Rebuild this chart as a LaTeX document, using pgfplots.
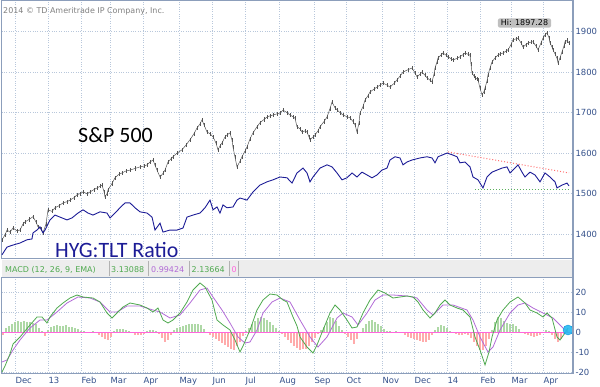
\documentclass[border=0pt]{standalone}
\usepackage{fontspec}
\setmainfont{DejaVu Sans}
\newfontfamily\carlito{Carlito}
\usepackage{pgfplots}
\usepackage{pgfplotstable}
\pgfplotsset{compat=1.18}
\definecolor{axisc}{HTML}{8C9EBB}
\definecolor{tickc}{HTML}{34508A}
\definecolor{gridc}{HTML}{B8C7DB}
\definecolor{spc}{HTML}{555555}
\definecolor{hygc}{HTML}{1C1C96}
\definecolor{macdg}{HTML}{4FA94F}
\definecolor{macdp}{HTML}{B26BD6}
\definecolor{histg}{HTML}{AED8A6}
\definecolor{histr}{HTML}{FFABAB}
\definecolor{zeroc}{HTML}{FF66DD}
\definecolor{bandc}{HTML}{EDEDED}
\definecolor{trendg}{HTML}{5CB05C}
\definecolor{trendr}{HTML}{FF7070}

\pgfplotstableread{
x h
3 -1.5
6 2
9 3
12 4
15 5
18 5.5
21 5
24 5.5
27 5
30 5
33 4.5
36 4
39 2
42 0.5
45 -2
48 1
51 2.5
54 3
57 3.3
60 3
63 3
66 3.3
69 2.5
72 2.5
75 2
78 1.5
81 0.5
84 0.3
87 -0.5
90 -0.3
93 0.3
96 -0.5
99 -1.5
102 -2.5
105 -3.5
108 -4
111 -2.5
114 0.5
117 1.5
120 1.7
123 1.5
126 1
129 0.3
132 -0.5
135 -1.5
138 -1.7
141 -1.5
144 -0.8
147 0.5
150 1.2
153 1
156 0.3
159 -1
162 -3
165 -5
168 -4
171 -1.5
174 1
177 2
180 2.5
183 3
186 3.5
189 4
192 4
195 4
198 3.8
201 3.5
204 1.5
207 -0.5
210 -1.5
213 -2.5
216 -3.5
219 -4.5
222 -5.5
225 -6.5
228 -7.5
231 -8.5
234 -9
237 -7
240 -5
243 -2
246 0.5
249 2
252 4
255 5.5
258 7
261 7.5
264 7
267 6
270 5
273 3.5
276 2
279 0.5
282 -1
285 -2.5
288 -4
291 -5.5
294 -7
297 -8
300 -9
303 -8.5
306 -8.3
309 -7
312 -5
315 -3
318 -1
321 1
324 2.5
327 5
330 7.5
333 7
336 5.5
339 3
342 1
345 -1
348 -2.5
351 -4
354 -6
357 -3.5
360 -0.5
363 2
366 4
369 5.5
372 6
375 5
378 4
381 3
384 1.5
387 0.3
390 0.5
393 -0.3
396 0.4
399 -0.3
402 -0.5
405 -1.5
408 -2.5
411 -3
414 -3.5
417 -4
420 -4.5
423 -5
426 -5
429 -4
432 -1.5
435 1
438 2.5
441 3.3
444 3
447 2
450 0.5
453 -0.5
456 -1
459 -1.5
462 -1.5
465 -1
468 -1.5
471 -3
474 -5
477 -7
480 -9
483 -9
486 -7
489 -3.5
492 1
495 5
498 7.5
501 7
504 5.5
507 4.5
510 4
513 4
516 3
519 1.5
522 0.2
525 -1
528 -1.5
531 -2
534 -2.5
537 -2
540 -1.5
543 -0.5
546 0.8
549 0.5
552 -1.5
555 -3.5
558 -5
561 -3.5
564 -1
567 1.5
}\histtable

\begin{document}
\begin{tikzpicture}[x=1bp,y=1bp]
\path[use as bounding box] (0bp,0bp) rectangle (600bp,-387bp);

% ---------- top panel ----------
\begin{axis}[
  at={(1.5bp,0bp)}, anchor=north west,
  scale only axis, width=571.5bp, height=258bp,
  xmin=1.5, xmax=573, ymin=1341, ymax=1978,
  xtick={15,48,81,110,143,179,212,245,279,314,346,382,414,447,480,511,543},
  xticklabels={},
  ytick={1400,1500,1600,1700,1800,1900},
  yticklabel pos=right,
  major tick length=0pt,
  grid=major,
  major grid style={dotted, gridc, line width=0.7bp},
  axis line style={axisc, line width=0.6bp},
  tick label style={font=\fontsize{8.5}{10}\selectfont, text=tickc},
  yticklabel style={anchor=west, xshift=-1bp},
  /pgf/number format/assume math mode=true,
  /pgf/number format/set thousands separator={},
]
\addplot[color=spc, line width=0.5bp,
  error bars/.cd, y dir=both, y fixed=5,
  error bar style={color=spc, line width=0.45bp}, error mark=none] coordinates {
(2,1386)(5,1398)(7,1410)(10,1405)(13,1415)(17,1408)(20,1410)(23,1425)(25,1430)(29,1436)(33,1443)(36,1430)(38,1418)(41,1412)(43,1403)(46,1425)(48,1460)(52,1456)(55,1465)(59,1470)(63,1477)(67,1480)(70,1484)(74,1490)(77,1497)(80,1500)(83,1504)(87,1500)(90,1504)(94,1510)(97,1514)(100,1518)(102,1521)(104,1505)(105,1492)(107,1500)(108,1509)(112,1525)(115,1539)(119,1548)(122,1551)(126,1556)(130,1558)(135,1562)(140,1566)(144,1568)(147,1571)(150,1578)(153,1583)(155,1570)(157,1558)(160,1541)(163,1550)(165,1558)(168,1578)(171,1586)(173,1591)(177,1600)(182,1608)(186,1620)(190,1633)(194,1648)(197,1662)(200,1672)(202,1682)(204,1670)(207,1652)(210,1648)(213,1640)(216,1625)(218,1608)(220,1618)(222,1625)(225,1640)(227,1645)(230,1650)(232,1632)(233,1615)(235,1590)(237,1566)(240,1580)(242,1591)(245,1605)(247,1615)(250,1635)(253,1650)(257,1665)(260,1675)(264,1683)(267,1689)(270,1692)(273,1694)(277,1697)(280,1699)(283,1706)(287,1700)(290,1694)(293,1690)(295,1686)(297,1665)(300,1660)(302,1652)(305,1655)(307,1652)(309,1640)(310,1633)(313,1640)(315,1645)(318,1655)(320,1665)(324,1678)(327,1689)(330,1710)(332,1726)(335,1712)(337,1707)(340,1700)(343,1694)(347,1690)(350,1687)(353,1678)(355,1670)(357,1652)(359,1675)(360,1699)(363,1715)(365,1731)(368,1742)(370,1751)(374,1758)(377,1763)(380,1768)(383,1773)(387,1768)(390,1763)(394,1772)(397,1781)(400,1790)(403,1800)(408,1806)(412,1810)(415,1798)(417,1788)(420,1795)(422,1800)(425,1792)(427,1786)(430,1780)(432,1776)(434,1795)(435,1810)(437,1825)(438,1835)(441,1842)(443,1847)(446,1842)(448,1838)(451,1833)(453,1830)(457,1834)(460,1838)(463,1843)(465,1847)(468,1844)(470,1842)(471,1820)(472,1798)(474,1790)(475,1786)(477,1783)(478,1781)(480,1760)(482,1744)(484,1752)(485,1761)(487,1778)(488,1793)(490,1810)(492,1825)(495,1835)(498,1842)(500,1845)(503,1847)(506,1852)(508,1855)(511,1868)(513,1880)(516,1882)(518,1884)(521,1872)(523,1862)(526,1868)(528,1872)(531,1874)(533,1875)(536,1864)(538,1855)(541,1872)(543,1884)(545,1892)(547,1897)(549,1885)(550,1872)(552,1862)(553,1855)(555,1845)(557,1834)(558,1823)(560,1835)(562,1850)(564,1865)(565,1875)(567,1878)(569,1872)
};
\addplot[color=hygc, line width=0.9bp] coordinates {
(2,1349)(7,1368)(13,1373)(20,1378)(27,1386)(32,1388)(33,1403)(37,1410)(40,1418)(43,1403)(45,1410)(50,1435)(55,1447)(60,1442)(67,1435)(72,1440)(78,1452)(83,1460)(88,1452)(93,1447)(100,1455)(107,1452)(110,1440)(115,1452)(120,1465)(125,1477)(130,1477)(135,1465)(140,1455)(147,1452)(152,1442)(155,1410)(160,1427)(163,1405)(170,1410)(177,1410)(183,1415)(187,1442)(193,1447)(200,1452)(205,1465)(210,1484)(213,1460)(217,1467)(220,1452)(223,1472)(227,1465)(233,1467)(237,1484)(240,1489)(247,1484)(253,1504)(260,1521)(267,1529)(273,1534)(280,1541)(287,1539)(292,1526)(297,1551)(303,1563)(307,1551)(310,1529)(313,1541)(320,1563)(327,1571)(332,1566)(337,1551)(342,1534)(347,1539)(352,1551)(357,1541)(362,1553)(367,1546)(372,1539)(377,1546)(382,1558)(387,1563)(390,1583)(395,1591)(400,1588)(403,1571)(407,1578)(412,1583)(420,1588)(427,1591)(432,1588)(435,1576)(438,1591)(443,1596)(447,1600)(452,1596)(457,1591)(460,1576)(465,1578)(470,1566)(473,1541)(478,1534)(483,1514)(487,1541)(492,1553)(497,1558)(502,1563)(507,1566)(510,1551)(515,1563)(518,1571)(522,1553)(525,1541)(530,1553)(535,1546)(540,1529)(545,1551)(550,1541)(555,1529)(557,1514)(562,1521)(567,1526)(569,1519)
};
\addplot[dotted, color=trendr, line width=1bp] coordinates {(448,1603)(569,1551)};
\addplot[dotted, color=trendg, line width=1bp] coordinates {(475,1511)(569,1511)};
\end{axis}

% ---------- MACD header band ----------
\fill[bandc] (1.5bp,-260bp) rectangle (573bp,-277bp);
\draw[axisc, line width=0.6bp] (1.5bp,-258bp) -- (573bp,-258bp);
\draw[gray!60, line width=0.5bp] (109bp,-261bp) -- (109bp,-276bp) (148.5bp,-261bp) -- (148.5bp,-276bp)
  (189.5bp,-261bp) -- (189.5bp,-276bp) (229.5bp,-261bp) -- (229.5bp,-276bp) (238bp,-261bp) -- (238bp,-276bp);
\node[anchor=base west, inner sep=0, font=\fontsize{8}{9}\selectfont, text=macdg] at (5bp,-272.5bp) {MACD (12, 26, 9, EMA)};
\node[anchor=base west, inner sep=0, font=\fontsize{8}{9}\selectfont, text=macdg] at (111bp,-272.5bp) {3.13088};
\node[anchor=base west, inner sep=0, font=\fontsize{8}{9}\selectfont, text=macdp] at (151bp,-272.5bp) {0.99424};
\node[anchor=base west, inner sep=0, font=\fontsize{8}{9}\selectfont, text=macdg] at (191.5bp,-272.5bp) {2.13664};
\node[anchor=base west, inner sep=0, font=\fontsize{8}{9}\selectfont, text=zeroc] at (231.5bp,-272.5bp) {0};

% ---------- MACD panel ----------
\begin{axis}[
  at={(1.5bp,-277bp)}, anchor=north west,
  scale only axis, width=571.5bp, height=96bp,
  xmin=1.5, xmax=573, ymin=-20.5, ymax=27.5,
  xtick={15,48,81,110,143,179,212,245,279,314,346,382,414,447,480,511,543},
  xticklabels={Dec,13,Feb,Mar,Apr,May,Jun,Jul,Aug,Sep,Oct,Nov,Dec,14,Feb,Mar,Apr},
  ytick={-20,-10,0,10,20},
  yticklabel pos=right,
  major tick length=0pt,
  grid=major,
  major grid style={dotted, gridc, line width=0.7bp},
  axis line style={axisc, line width=0.6bp},
  tick label style={font=\fontsize{8.5}{10}\selectfont, text=tickc},
  yticklabel style={anchor=west, xshift=-1bp},
  xticklabel style={anchor=north west, xshift=-3bp, yshift=-0.5bp},
  /pgf/number format/assume math mode=true,
]
\addplot[ycomb, draw=histg, line width=1.1bp, restrict y to domain=0:40] table[x=x,y=h] {\histtable};
\addplot[ycomb, draw=histr, line width=1.1bp, restrict y to domain=-40:0] table[x=x,y=h] {\histtable};
\addplot[zeroc, line width=0.7bp] coordinates {(1.5,0)(573,0)};
\addplot[color=macdp, line width=0.8bp] coordinates {
(2,-15)(7,-14)(13,-9)(20,-4)(30,2)(40,6)(47,6)(57,10)(67,14.5)(78,17.5)(90,17)(100,15)(110,10)(117,10)(127,13)(140,13)(153,11)(160,10)(170,7)(180,8.5)(190,14.5)(200,21)(207,22)(213,17.5)(222,11)(230,4.5)(238,-2.5)(245,-5.5)(250,-5)(257,1)(263,9.5)(272,15)(280,17)(290,15)(300,6)(310,-2.5)(318,-7.5)(327,-2.5)(337,7)(343,9.5)(352,7.5)(358,3.5)(367,9.5)(375,16)(383,18.5)(393,18.5)(407,18)(417,17)(427,11)(433,8.5)(443,13.5)(453,13.5)(467,11)(473,6)(480,-2.5)(488,-10)(493,-7.5)(500,1)(510,9.5)(518,13.5)(525,14.5)(533,12)(543,9.5)(553,7)(563,2)(568,0)
};
\addplot[color=macdg, line width=0.8bp] coordinates {
(2,-20)(5,-17)(10,-11)(13,-6)(20,-2.5)(30,3.5)(37,7.5)(42,7.5)(47,4.5)(50,7.5)(57,12)(63,14.5)(70,17)(77,18.5)(83,17.5)(93,17)(100,15)(107,9.5)(112,7)(117,9.5)(123,12.5)(130,14.5)(140,13.5)(147,12)(153,10)(158,12)(163,6)(168,4.5)(173,6)(180,9.5)(187,15)(193,21)(200,24.5)(205,22.5)(212,16)(217,6)(223,3.5)(230,1)(235,-4)(240,-10)(243,-7)(250,1)(257,11)(263,16)(270,19)(277,18.5)(283,16)(287,15)(293,7.5)(297,3)(300,-2.5)(307,-7.5)(313,-10.5)(317,-6.5)(323,1)(330,9.5)(335,13.5)(340,11)(347,6)(352,2)(357,2.5)(363,9.5)(370,16)(378,21)(385,19.5)(393,17)(400,17.5)(407,18)(413,17.5)(418,15)(423,11)(430,7)(435,9.5)(440,13.5)(445,16)(450,13.5)(457,12)(463,11)(470,7.5)(475,-2.5)(480,-9)(485,-16.5)(489,-10)(492,-2.5)(497,6)(503,11)(510,15)(518,17.5)(525,14.5)(530,11)(537,9.5)(543,7.5)(547,9.5)(552,7)(557,-2.5)(560,-4)(565,-0.5)(568,2)
};
\addplot[only marks, mark=*, mark size=5bp, mark options={fill=cyan!85!white, draw=cyan!80!blue, fill opacity=0.9}] coordinates {(568,1)};
\end{axis}

% thicker right border
\draw[axisc, line width=1.4bp] (573bp,0bp) -- (573bp,-373bp);

% ---------- text annotations ----------
\node[anchor=base west, inner sep=0, font=\fontsize{8}{9}\selectfont, text=gray] at (3bp,-13.5bp) {2014 © TD Ameritrade IP Company, Inc.};
\node[anchor=base west, inner sep=0, font=\carlito\fontsize{22}{24}\selectfont] at (78bp,-142bp) {S\&P 500};
\node[anchor=base west, inner sep=0, font=\carlito\fontsize{22}{24}\selectfont, text=hygc] at (55bp,-257bp) {HYG:TLT Ratio};
\node[fill=gray!50, rounded corners=2bp, inner xsep=3bp, inner ysep=1.5bp, font=\fontsize{8}{9}\selectfont] at (524.5bp,-23bp) {Hi: 1897.28};
\end{tikzpicture}
\end{document}
